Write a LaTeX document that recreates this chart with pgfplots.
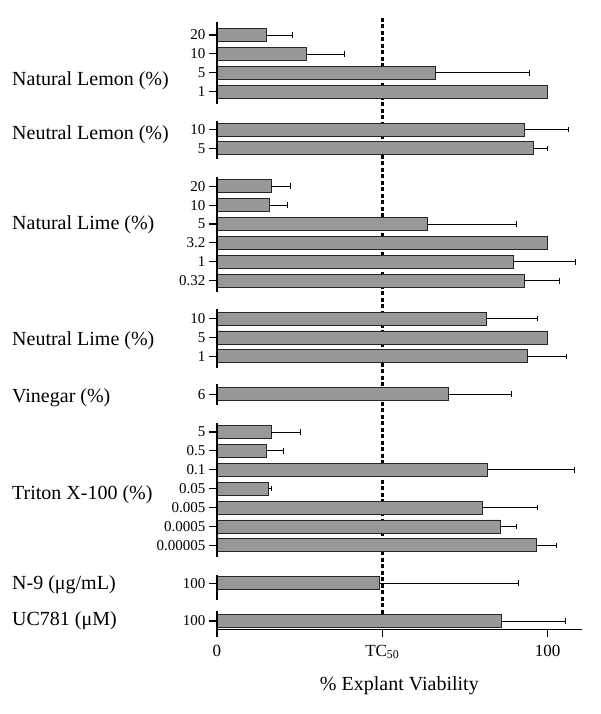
\documentclass[border=0pt]{standalone}
\usepackage{fontspec}
\setmainfont{Liberation Serif}
\usepackage{pgfplots}
\pgfplotsset{compat=1.18}
\usepackage{pgfplotstable}
\definecolor{barGray}{RGB}{152,152,152}

% slot, mean viability, upper error (0 = none drawn)
\pgfplotstableread{
slot val err
0 14.9 7.8
1 27.0 11.4
2 66.0 28.4
3 100.0 0
5 93.1 13.1
6 95.8 4.0
8 16.4 5.7
9 15.8 5.4
10 63.6 27.0
11 100.0 0
12 89.7 18.8
13 92.9 10.7
15 81.4 15.5
16 100.0 0
17 93.8 11.9
19 70.0 19.1
21 16.4 8.7
22 15.1 5.1
23 81.9 26.3
24 15.6 0.9
25 80.2 16.7
26 85.6 5.1
27 96.6 6.2
29 49.2 42.0
31 86.1 19.3
}\data

\pgfplotstableread{
slot val err
0 14.9 7.8
1 27.0 11.4
2 66.0 28.4
5 93.1 13.1
6 95.8 4.0
8 16.4 5.7
9 15.8 5.4
10 63.6 27.0
12 89.7 18.8
13 92.9 10.7
15 81.4 15.5
17 93.8 11.9
19 70.0 19.1
21 16.4 8.7
22 15.1 5.1
23 81.9 26.3
24 15.6 0.9
25 80.2 16.7
26 85.6 5.1
27 96.6 6.2
29 49.2 42.0
31 86.1 19.3
}\errdata

\tikzset{grp/.style={anchor=west, font=\fontsize{20}{24}\selectfont, inner sep=0pt}}

\begin{document}
\begin{tikzpicture}
\useasboundingbox (-217pt,-84.7pt) rectangle (383pt,629.3pt);
\begin{axis}[
  at={(0,0)}, anchor=south west,
  scale only axis, width=364.7pt, height=611.3pt,
  xmin=0, xmax=110.3, ymin=-0.9, ymax=31.44, y dir=reverse,
  axis x line*=bottom, axis y line*=left,
  y axis line style={draw=none},
  x axis line style={line width=1.1pt,-},
  xtick={0,50,100}, xticklabels={0,TC\textsubscript{50},100},
  ytick={0,1,2,3,5,6,8,9,10,11,12,13,15,16,17,19,21,22,23,24,25,26,27,29,31},
  yticklabels={20,10,5,1,10,5,20,10,5,3.2,1,0.32,10,5,1,6,5,0.5,0.1,0.05,0.005,0.0005,0.00005,100,100},
  tick align=outside, major tick length=8pt,
  every tick/.style={black, line width=1.1pt},
  xticklabel style={font=\fontsize{17}{20}\selectfont, yshift=-4pt},
  yticklabel style={font=\fontsize{15}{17}\selectfont},
  xlabel={\% Explant Viability},
  xlabel style={font=\fontsize{20}{24}\selectfont, at={(axis description cs:0.5,0)}, anchor=center, yshift=-56pt},
  bar width=13pt,
  clip=false,
]
\draw[line width=2.6pt, dash pattern=on 4pt off 2.5pt] (axis cs:50,-0.9) -- (axis cs:50,31.44);
\addplot[xbar, bar shift=0pt, fill=barGray, draw=black!85, line width=0.9pt]
  table[x=val, y=slot] {\data};
\addplot[draw=none, mark=none, forget plot,
  error bars/.cd, x dir=plus, x explicit,
  error mark=|,
  error bar style={line width=0.8pt, black, solid},
  error mark options={black, line width=0.9pt, mark size=2.8pt, solid}]
  table[x=val, y=slot, x error=err] {\errdata};
\draw[line width=1.1pt] (axis cs:0,-0.7) -- (axis cs:0,3.65);
\draw[line width=1.1pt] (axis cs:0,4.55) -- (axis cs:0,6.55);
\draw[line width=1.1pt] (axis cs:0,7.5) -- (axis cs:0,13.6);
\draw[line width=1.1pt] (axis cs:0,14.5) -- (axis cs:0,17.6);
\draw[line width=1.1pt] (axis cs:0,18.45) -- (axis cs:0,19.55);
\draw[line width=1.1pt] (axis cs:0,20.5) -- (axis cs:0,27.6);
\draw[line width=1.1pt] (axis cs:0,28.55) -- (axis cs:0,29.9);
\draw[line width=1.1pt] (axis cs:0,30.45) -- (axis cs:0,31.8);
\node[grp] at ([xshift=-205pt]axis cs:0,2.4) {Natural Lemon (\%)};
\node[grp] at ([xshift=-205pt]axis cs:0,5.25) {Neutral Lemon (\%)};
\node[grp] at ([xshift=-205pt]axis cs:0,10.05) {Natural Lime (\%)};
\node[grp] at ([xshift=-205pt]axis cs:0,16.15) {Neutral Lime (\%)};
\node[grp] at ([xshift=-205pt]axis cs:0,19.2) {Vinegar (\%)};
\node[grp] at ([xshift=-205pt]axis cs:0,24.3) {Triton X-100 (\%)};
\node[grp] at ([xshift=-205pt]axis cs:0,29.1) {N-9 (μg/mL)};
\node[grp] at ([xshift=-205pt]axis cs:0,31.0) {UC781 (μM)};
\end{axis}
\end{tikzpicture}
\end{document}
